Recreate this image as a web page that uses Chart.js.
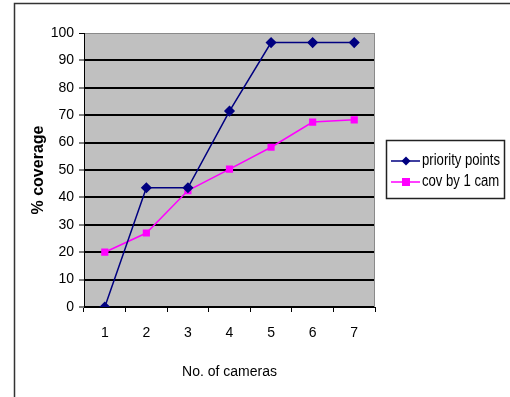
<!DOCTYPE html>
<html>
<head>
<meta charset="utf-8">
<script src="https://cdn.jsdelivr.net/npm/chart.js@4.4.1/dist/chart.umd.min.js"></script>
<style>
  html, body { margin: 0; padding: 0; background: #fff; }
  #wrap { width: 510px; height: 397px; }
</style>
</head>
<body>
<div id="wrap"><canvas id="myChart" width="510" height="397"></canvas></div>
<script>
// 데이터
const cameras = ["1", "2", "3", "4", "5", "6", "7"];
const priorityPoints = [0, 43.5, 43.5, 71.5, 96.5, 96.5, 96.5];
const covBy1Cam = [20, 27, 42.5, 50.3, 58.3, 67.5, 68.3];
const yTicks = [0, 10, 20, 30, 40, 50, 60, 70, 80, 90, 100];

const sans = "'Liberation Sans', Arial, sans-serif";

// 회색 배경 + 바깥 테두리 + 범례
const decor = {
  id: "decor",
  beforeDraw(chart) {
    const c = chart.ctx;
    const a = chart.chartArea;
    c.save();
    c.fillStyle = "#fff";
    c.fillRect(0, 0, chart.width, chart.height);
    c.fillStyle = "#c0c0c0";
    c.fillRect(a.left, a.top, a.right - a.left, a.bottom - a.top);
    c.restore();
  },
  afterDraw(chart) {
    const c = chart.ctx;
    const a = chart.chartArea;
    c.save();
    // 플롯 오른쪽 테두리
    c.strokeStyle = "#8a8a8a";
    c.lineWidth = 1;
    c.beginPath();
    c.moveTo(a.right - 0.5, a.top);
    c.lineTo(a.right - 0.5, a.bottom);
    c.stroke();

    // 바깥 테두리 (왼쪽, 위쪽만 보임)
    c.strokeStyle = "#333";
    c.lineWidth = 1.5;
    c.beginPath();
    c.moveTo(14.5, chart.height);
    c.lineTo(14.5, 3.5);
    c.lineTo(chart.width, 3.5);
    c.stroke();

    // 범례
    c.strokeStyle = "#222";
    c.lineWidth = 1.5;
    c.strokeRect(386.5, 140.5, 118, 58);
    c.font = "16px " + sans;
    c.textBaseline = "middle";
    c.textAlign = "left";
    const rows = [161, 182];
    chart.data.datasets.forEach((ds, i) => {
      const y = rows[i];
      c.strokeStyle = ds.borderColor;
      c.lineWidth = 1.5;
      c.beginPath();
      c.moveTo(391, y);
      c.lineTo(420, y);
      c.stroke();
      c.fillStyle = ds.backgroundColor;
      c.beginPath();
      if (ds.pointStyle === "rectRot") {
        c.moveTo(406, y - 4.5);
        c.lineTo(410.5, y);
        c.lineTo(406, y + 4.5);
        c.lineTo(401.5, y);
      } else {
        c.rect(402, y - 4, 8, 8);
      }
      c.closePath();
      c.fill();
      // 좁은 글꼴 흉내 (가로로 압축)
      c.save();
      c.translate(422, y);
      c.scale(0.82, 1);
      c.fillStyle = "#000";
      c.fillText(ds.label, 0, 0);
      c.restore();
    });
    c.restore();
  },
};

const ctx = document.getElementById("myChart").getContext("2d");
const myChart = new Chart(ctx, {
  type: "line",
  data: {
    labels: cameras,
    datasets: [
      {
        label: "priority points",
        data: priorityPoints,
        borderColor: "#000080",
        backgroundColor: "#000080",
        borderWidth: 1.5,
        pointStyle: "rectRot",
        pointRadius: 4.5,
        fill: false,
        tension: 0,
      },
      {
        label: "cov by 1 cam",
        data: covBy1Cam,
        borderColor: "#ff00ff",
        backgroundColor: "#ff00ff",
        borderWidth: 1.5,
        pointStyle: "rect",
        pointRadius: 4,
        fill: false,
        tension: 0,
      },
    ],
  },
  options: {
    responsive: false,
    animation: false,
    layout: { padding: { left: 29, right: 135, top: 33, bottom: 16 } },
    scales: {
      x: {
        offset: true,
        grid: {
          offset: true,
          drawOnChartArea: false,
          drawTicks: true,
          tickLength: 5,
          tickColor: "#000",
          tickWidth: 1,
        },
        border: { color: "#000", width: 1 },
        ticks: { color: "#000", padding: 13, font: { family: sans, size: 14 } },
        title: {
          display: true,
          text: "No. of cameras",
          color: "#000",
          padding: 0,
          font: { family: sans, size: 14 },
        },
        afterFit: (s) => { s.height = 74; },
      },
      y: {
        min: 0,
        max: 100,
        afterBuildTicks: (s) => { s.ticks = yTicks.map((v) => ({ value: v })); },
        grid: {
          color: (c) => (c.tick && c.tick.value === 100 ? "#8a8a8a" : "#000"),
          lineWidth: (c) => (c.tick && c.tick.value === 100 ? 1 : 2),
          tickLength: 5,
          tickColor: "#000",
          tickWidth: 1,
        },
        border: { color: "#000", width: 1 },
        ticks: { color: "#000", padding: 5, font: { family: sans, size: 14 } },
        title: {
          display: true,
          text: "% coverage",
          color: "#000",
          padding: 0,
          font: { family: sans, size: 16, weight: "bold" },
        },
        afterFit: (s) => { s.width = 55; },
      },
    },
    plugins: {
      legend: { display: false },
      tooltip: { enabled: false },
    },
  },
  plugins: [decor],
});
</script>
</body>
</html>
